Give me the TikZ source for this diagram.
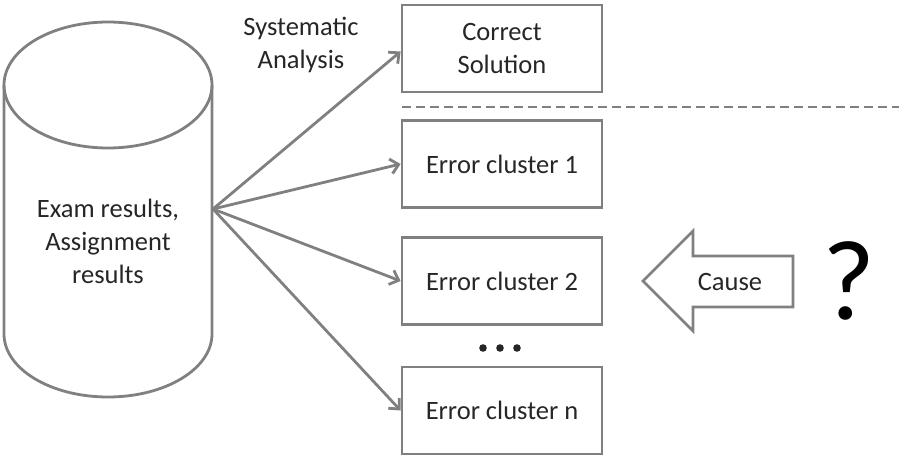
\documentclass[tikz,border=0pt]{standalone}
\usepackage{fontspec}
\setmainfont{Carlito}
\usetikzlibrary{arrows.meta}
\definecolor{lg}{HTML}{808080}
\definecolor{tx}{HTML}{262626}
\tikzset{
  box/.style={draw=lg, line width=2.8pt, minimum width=200pt, minimum height=87pt, inner sep=0pt, align=center, text=tx, font=\fontsize{26.5}{33}\selectfont},
  conn/.style={draw=lg, line width=2.8pt, -{Straight Barb[length=8pt,width=15pt,line width=2.8pt]}},
  lbl/.style={text=tx, align=center, font=\fontsize{26.5}{33}\selectfont}
}
\begin{document}
\begin{tikzpicture}[x=1pt,y=-1pt]
\useasboundingbox (0,0) rectangle (899,460);
% cylinder
\draw[lg, line width=2.8pt] (4,85) -- (4,334) arc[start angle=180, end angle=360, x radius=104pt, y radius=63pt] -- (212,85);
\draw[lg, line width=2.8pt] (108,85) ellipse [x radius=104pt, y radius=63pt];
\node[lbl] (db) at (108,241) {Exam results,\\Assignment\\results};
\coordinate (src) at (213,209);
% boxes
\node[box] (cs) at (502,48.5) {Correct\\Solution};
\node[box] (e1) at (502,164) {Error cluster 1};
\node[box] (e2) at (502,281) {Error cluster 2};
\node[box] (en) at (502,410.5) {Error cluster n};
% connectors
\draw[conn] (src) -- ([yshift=-3pt]cs.west);
\draw[conn] (src) -- (e1.west);
\draw[conn] (src) -- (e2.west);
\draw[conn] (src) -- (en.west);
\node[lbl] (sa) at (301,45) {Systematic\\Analysis};
% dashed line
\coordinate (dl) at (402,107);
\coordinate (dr) at (899,107);
\draw[lg, line width=2.5pt, dash pattern=on 9pt off 5pt] (dl) -- (dr);
% dots
\foreach \x in {483,500,517} \fill[tx] (\x,348) circle (3.8pt);
% cause arrow
\draw[lg, line width=2.8pt, line join=miter] (643,281) -- (693,231) -- (693,256) -- (793,256) -- (793,307) -- (693,307) -- (693,331) -- cycle;
\node[lbl] (cause) at (730,282) {Cause};
\node[text=black, font=\fontsize{114}{114}\selectfont] (q) at (849,281) {?};
\end{tikzpicture}
\end{document}
